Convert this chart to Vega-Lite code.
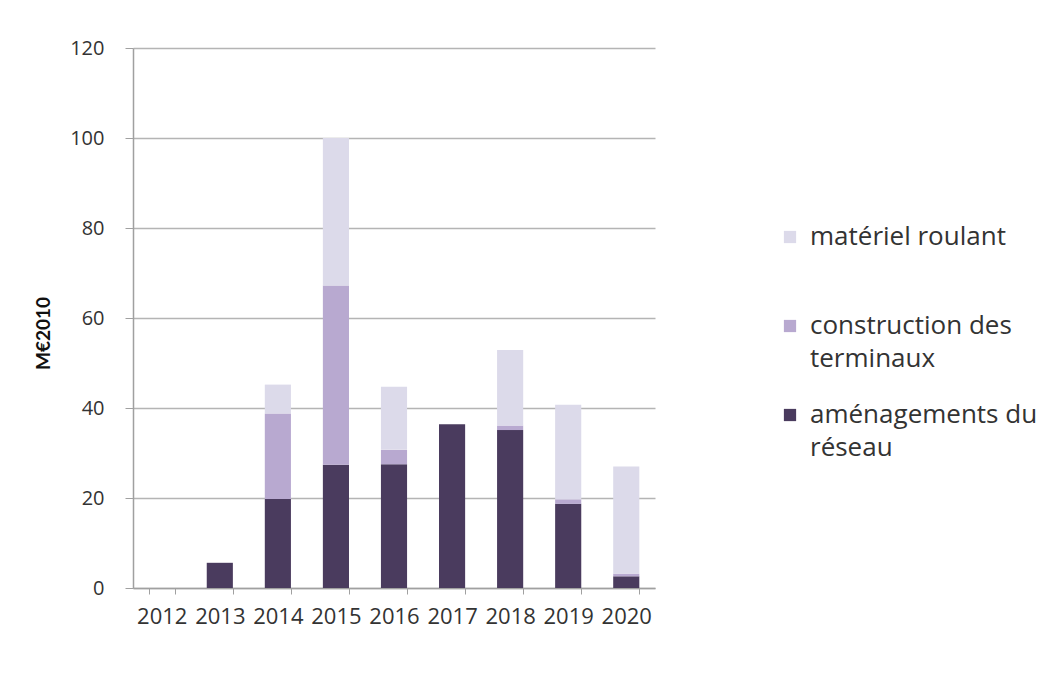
{
  "$schema": "https://vega.github.io/schema/vega-lite/v6.json",
  "width": 522,
  "height": 540,
  "autosize": {"type": "none"},
  "padding": {"left": 133, "top": 48, "right": 393, "bottom": 99},
  "background": "white",
  "data": {
    "values": [
      {"year": "2012", "cat": "aménagements du réseau", "o": 1, "v": 0},
      {"year": "2013", "cat": "aménagements du réseau", "o": 1, "v": 5.6},
      {"year": "2014", "cat": "aménagements du réseau", "o": 1, "v": 19.8},
      {"year": "2014", "cat": "construction des terminaux", "o": 2, "v": 19},
      {"year": "2014", "cat": "matériel roulant", "o": 3, "v": 6.4},
      {"year": "2015", "cat": "aménagements du réseau", "o": 1, "v": 27.4},
      {"year": "2015", "cat": "construction des terminaux", "o": 2, "v": 39.8},
      {"year": "2015", "cat": "matériel roulant", "o": 3, "v": 32.8},
      {"year": "2016", "cat": "aménagements du réseau", "o": 1, "v": 27.5},
      {"year": "2016", "cat": "construction des terminaux", "o": 2, "v": 3.2},
      {"year": "2016", "cat": "matériel roulant", "o": 3, "v": 14},
      {"year": "2017", "cat": "aménagements du réseau", "o": 1, "v": 36.4},
      {"year": "2018", "cat": "aménagements du réseau", "o": 1, "v": 35.1},
      {"year": "2018", "cat": "construction des terminaux", "o": 2, "v": 1},
      {"year": "2018", "cat": "matériel roulant", "o": 3, "v": 16.8},
      {"year": "2019", "cat": "aménagements du réseau", "o": 1, "v": 18.7},
      {"year": "2019", "cat": "construction des terminaux", "o": 2, "v": 1},
      {"year": "2019", "cat": "matériel roulant", "o": 3, "v": 21},
      {"year": "2020", "cat": "aménagements du réseau", "o": 1, "v": 2.6},
      {"year": "2020", "cat": "construction des terminaux", "o": 2, "v": 0.6},
      {"year": "2020", "cat": "matériel roulant", "o": 3, "v": 23.8}
    ]
  },
  "mark": {"type": "bar"},
  "encoding": {
    "x": {
      "field": "year", "type": "ordinal",
      "scale": {"paddingInner": 0.55, "paddingOuter": 0.27},
      "axis": {
        "title": null, "labelAngle": 0, "labelFont": "Open Sans", "labelFontSize": 22,
        "labelColor": "#333", "domainColor": "#a0a0a0", "domainWidth": 1.5,
        "tickColor": "#a0a0a0", "tickSize": 6, "tickBand": "extent", "labelPadding": 12
      }
    },
    "y": {
      "aggregate": "sum", "field": "v", "type": "quantitative", "stack": "zero",
      "scale": {"domain": [0, 120]},
      "axis": {
        "title": "M€2010", "titleFont": "Lato", "titleFontSize": 19, "titleFontWeight": "bold",
        "titleColor": "#111", "titlePadding": 16, "titleY": 285,
        "values": [0, 20, 40, 60, 80, 100, 120],
        "labelFont": "Open Sans", "labelFontSize": 20, "labelColor": "#333", "labelPadding": 21,
        "domainColor": "#a0a0a0", "domainWidth": 1.5, "tickColor": "#a0a0a0", "tickSize": 8,
        "gridColor": "#b4b4b4", "gridWidth": 1.5
      }
    },
    "color": {
      "field": "cat", "type": "nominal",
      "scale": {
        "domain": ["matériel roulant", "construction des terminaux", "aménagements du réseau"],
        "range": ["#dcdaea", "#b8a9d0", "#4a3b5e"]
      },
      "legend": {
        "title": null, "orient": "none", "legendX": 644, "legendY": 176,
        "symbolType": "square", "symbolSize": 150, "symbolStrokeWidth": 0,
        "labelFont": "Open Sans", "labelFontSize": 26, "labelColor": "#333", "labelLimit": 0,
        "labelExpr": "datum.label == 'construction des terminaux' ? ['construction des', 'terminaux'] : datum.label == 'aménagements du réseau' ? ['aménagements du', 'réseau'] : [datum.label, ' ']",
        "rowPadding": 30, "labelOffset": 7,
        "encode": {"labels": {"update": {"lineHeight": {"value": 33}}}}
      }
    },
    "order": {"field": "o", "type": "quantitative", "sort": "ascending"}
  },
  "config": {"view": {"stroke": null}}
}
